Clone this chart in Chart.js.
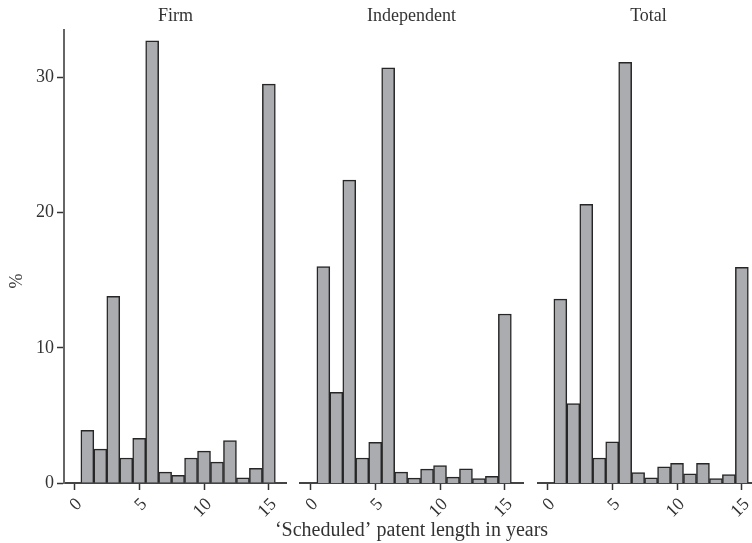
<!DOCTYPE html>
<html><head><meta charset="utf-8">
<script src="https://cdn.jsdelivr.net/npm/chart.js@4/dist/chart.umd.min.js"></script>
<style>
html,body{margin:0;padding:0;background:#fff;overflow:hidden;width:752px;height:543px;position:relative}
canvas{position:absolute;top:0}
</style></head><body>
<canvas id="c1" width="287" height="543" style="left:0px"></canvas>
<canvas id="c2" width="283" height="543" style="left:270px"></canvas>
<canvas id="c3" width="223" height="543" style="left:537px"></canvas>
<script>
const years = [1, 2, 3, 4, 5, 6, 7, 8, 9, 10, 11, 12, 13, 14, 15];
const firmPct = [3.9, 2.5, 13.8, 1.85, 3.3, 32.7, 0.8, 0.56, 1.85, 2.36, 1.54, 3.13, 0.38, 1.08, 29.5];
const independentPct = [16.0, 6.7, 22.4, 1.85, 3.0, 30.7, 0.8, 0.36, 1.03, 1.28, 0.44, 1.05, 0.33, 0.49, 12.5];
const totalPct = [13.6, 5.87, 20.6, 1.85, 3.05, 31.1, 0.77, 0.38, 1.2, 1.46, 0.67, 1.46, 0.33, 0.62, 15.95];
const panelTitles = ['Firm', 'Independent', 'Total'];
const xTickValues = [0, 5, 10, 15];
const yTickValues = [0, 10, 20, 30];
const xAxisTitle = '\u2018Scheduled\u2019 patent length in years';
const yAxisTitle = '%';

const FONT = '"Liberation Serif", "DejaVu Serif", "Times New Roman", serif';
const TEXT = '#333';
Chart.defaults.font.family = FONT;
Chart.defaults.color = TEXT;

const yTitlePlugin = {
  id: 'yTitle',
  afterDraw(chart) {
    const ctx = chart.ctx;
    ctx.save();
    ctx.translate(17, 281);
    ctx.rotate(-Math.PI / 2);
    ctx.font = '18px ' + FONT;
    ctx.fillStyle = TEXT;
    ctx.textAlign = 'center';
    ctx.textBaseline = 'middle';
    ctx.fillText(yAxisTitle, 0, 0);
    ctx.restore();
  }
};

const xTitlePlugin = {
  id: 'xTitle',
  afterDraw(chart) {
    const ctx = chart.ctx;
    const a = chart.chartArea;
    ctx.save();
    ctx.font = '20px ' + FONT;
    ctx.fillStyle = TEXT;
    ctx.textAlign = 'center';
    ctx.textBaseline = 'middle';
    ctx.fillText(xAxisTitle, (a.left + a.right) / 2, 531);
    ctx.restore();
  }
};

function makeChart(id, values, title, showY, showXTitle, pad) {
  const gridOpts = {offset: false, drawOnChartArea: false, drawTicks: true, tickLength: 7, tickColor: '#333', tickWidth: 1.5, color: '#333'};
  const plugins = [];
  if (showY) plugins.push(yTitlePlugin);
  if (showXTitle) plugins.push(xTitlePlugin);
  return new Chart(document.getElementById(id), {
    type: 'bar',
    data: {
      datasets: [{
        data: years.map((x, i) => ({x: x, y: values[i]})),
        backgroundColor: '#abacb0',
        borderColor: '#262626',
        borderWidth: 1.5,
        barPercentage: 1,
        categoryPercentage: 1
      }]
    },
    options: {
      responsive: false,
      animation: false,
      devicePixelRatio: 1,
      layout: {padding: {left: pad, right: pad, top: 0, bottom: 0}},
      plugins: {
        legend: {display: false},
        tooltip: {enabled: false},
        title: {
          display: true, text: title, fullSize: false, color: TEXT,
          font: {size: 18, weight: 'normal', family: FONT, lineHeight: 1.2},
          padding: {top: 5, bottom: 3.4}
        }
      },
      scales: {
        x: {
          type: 'linear', min: -0.8, max: 16.4, offset: false,
          afterBuildTicks: s => { s.ticks = xTickValues.map(v => ({value: v})); },
          afterFit: s => { s.height = 60; s.paddingLeft = 0; s.paddingRight = 0; },
          border: {display: true, color: '#444', width: 2},
          grid: gridOpts,
          ticks: {minRotation: 45, maxRotation: 45, autoSkip: false, padding: 4, labelOffset: 5,
                  font: {size: 18}, color: TEXT}
        },
        y: {
          display: showY, min: 0, max: 33.5,
          afterBuildTicks: s => { s.ticks = yTickValues.map(v => ({value: v})); },
          afterFit: s => { if (showY) { s.width = 64; } else { s.width = 0; } s.paddingTop = 0; s.paddingBottom = 0; },
          border: {display: true, color: '#666', width: 2},
          grid: gridOpts,
          ticks: {padding: 3, font: {size: 18}, color: TEXT}
        }
      }
    },
    plugins: plugins
  });
}

makeChart('c1', firmPct, panelTitles[0], true, false, 0);
makeChart('c2', independentPct, panelTitles[1], false, true, 30);
makeChart('c3', totalPct, panelTitles[2], false, false, 0);
</script>
</body></html>
